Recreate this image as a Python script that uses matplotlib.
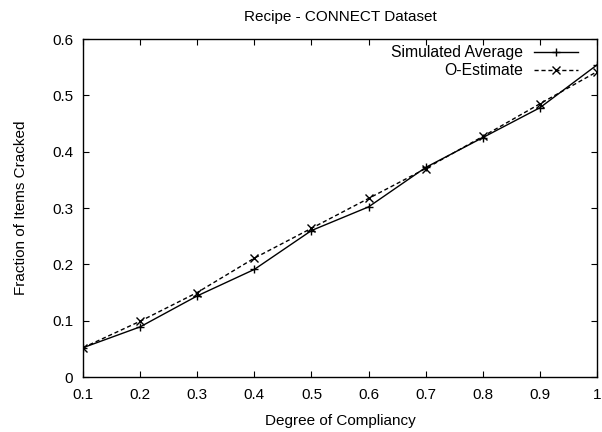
import matplotlib
matplotlib.use('Agg')
import matplotlib.pyplot as plt

plt.rcParams['font.family'] = ['Liberation Sans', 'DejaVu Sans']

compliancy = [0.1, 0.2, 0.3, 0.4, 0.5, 0.6, 0.7, 0.8, 0.9, 1.0]
simulated_avg = [0.052, 0.089, 0.144, 0.191, 0.260, 0.302, 0.372, 0.425, 0.478, 0.554]
o_estimate = [0.052, 0.099, 0.150, 0.211, 0.264, 0.317, 0.370, 0.427, 0.485, 0.542]

xticks = [0.1, 0.2, 0.3, 0.4, 0.5, 0.6, 0.7, 0.8, 0.9, 1]
xtick_labels = ['0.1', '0.2', '0.3', '0.4', '0.5', '0.6', '0.7', '0.8', '0.9', '1']
yticks = [0, 0.1, 0.2, 0.3, 0.4, 0.5, 0.6]
ytick_labels = ['0', '0.1', '0.2', '0.3', '0.4', '0.5', '0.6']

fig = plt.figure(figsize=(6.02, 4.32), dpi=100)
ax = fig.add_axes([0.1379, 0.1273, 0.8538, 0.7824])

ax.plot(compliancy, simulated_avg, color='black', lw=1, marker='+', ms=6,
        mew=1, label='Simulated Average')
ax.plot(compliancy, o_estimate, color='black', lw=1, ls=(0, (3, 2)), marker='x',
        ms=5.5, mew=1, label='O-Estimate')

ax.set_xlim(0.1, 1.0)
ax.set_ylim(0, 0.6)
ax.set_xticks(xticks)
ax.set_xticklabels(xtick_labels)
ax.set_yticks(yticks)
ax.set_yticklabels(ytick_labels)
ax.tick_params(direction='in', top=True, right=True, length=4, labelsize=11)
ax.tick_params(axis='x', pad=8)
ax.tick_params(axis='y', pad=7)
for s in ax.spines.values():
    s.set_linewidth(1)

ax.set_xlabel('Degree of Compliancy', fontsize=11, labelpad=8.5)
ax.set_ylabel('Fraction of Items Cracked', fontsize=11, labelpad=17.5)
ax.set_title('Recipe - CONNECT Dataset', fontsize=11, pad=13)

ax.legend(loc='upper right', bbox_to_anchor=(0.975, 1.0), frameon=False,
          markerfirst=False, fontsize=11.3, handlelength=2.8, borderaxespad=0,
          labelspacing=0.18, handletextpad=0.7)

fig.savefig('out.png', dpi=100)
